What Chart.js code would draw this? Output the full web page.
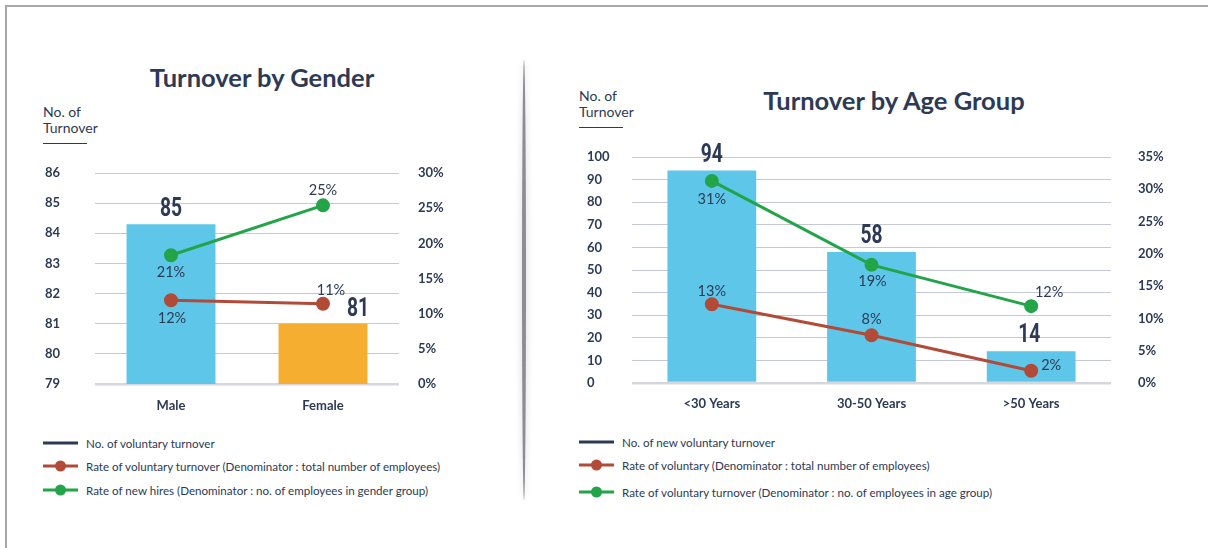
<!DOCTYPE html>
<html>
<head>
<meta charset="utf-8">
<script src="https://cdn.jsdelivr.net/npm/chart.js@4.4.1/dist/chart.umd.min.js"></script>
<style>
  body { margin: 0; width: 1208px; height: 548px; background: #fff; position: relative; overflow: hidden;
         font-family: Lato, "Open Sans", sans-serif; color: #2d3a55; }
  .frame { position: absolute; left: 5px; top: 5px; right: -5px; bottom: -5px;
           border-top: 2px solid #a8a8a8; border-left: 2px solid #a8a8a8; }
  .divider { position: absolute; left: 522px; top: 60px; width: 4px; height: 440px; background: #8c8e93;
             border-radius: 50%; box-shadow: 0 0 6px 2px rgba(0,0,0,0.10); }
  .title { position: absolute; font-weight: bold; font-size: 25.5px; transform: translate(-50%, -50%); white-space: nowrap; }
  .unit { position: absolute; font-size: 14px; line-height: 16px; }
  .unit::after { content: ""; display: block; width: 44px; border-top: 1.5px solid #2d3a55; margin-top: 7px; }
  canvas { position: absolute; }
  .legend { position: absolute; font-size: 11.6px; }
  .legend .item { position: absolute; left: 0; white-space: nowrap; display: flex; align-items: center; transform: translateY(-50%); }
  .legend .mark { position: relative; width: 35px; height: 3px; margin-right: 8px; }
  .legend .dot { position: absolute; left: 12px; top: -4px; width: 11px; height: 11px; border-radius: 50%; }
</style>
</head>
<body>
<div class="frame"></div>
<div class="divider"></div>

<div class="title" style="left:262px; top:77px;">Turnover by Gender</div>
<div class="unit" style="left:43px; top:104px;">No. of<br>Turnover</div>
<canvas id="genderChart" width="520" height="274" style="left:0; top:150px;"></canvas>
<div class="legend" id="genderLegend" style="left:43px; top:443px;"></div>

<div class="title" style="left:894px; top:100px;">Turnover by Age Group</div>
<div class="unit" style="left:579px; top:88px;">No. of<br>Turnover</div>
<canvas id="ageChart" width="678" height="293" style="left:530px; top:130px;"></canvas>
<div class="legend" id="ageLegend" style="left:579px; top:442px;"></div>

<script>
// ---- data: gender ----
const genderCategories = ["Male", "Female"];
const genderTurnover = [84.3, 81.0];
const genderTurnoverText = ["85", "81"];
const genderRateTotal = [11.9, 11.4];
const genderRateTotalText = ["12%", "11%"];
const genderRateGroup = [18.3, 25.4];
const genderRateGroupText = ["21%", "25%"];
const genderSeriesNames = [
  "No. of voluntary turnover",
  "Rate of voluntary turnover (Denominator : total number of employees)",
  "Rate of new hires (Denominator : no. of employees in gender group)"
];

// ---- data: age group ----
const ageCategories = ["<30 Years", "30-50 Years", ">50 Years"];
const ageTurnover = [94, 58, 14];
const ageTurnoverText = ["94", "58", "14"];
const ageRateTotal = [12.2, 7.4, 1.9];
const ageRateTotalText = ["13%", "8%", "2%"];
const ageRateGroup = [31.3, 18.3, 11.9];
const ageRateGroupText = ["31%", "19%", "12%"];
const ageSeriesNames = [
  "No. of new voluntary turnover",
  "Rate of voluntary (Denominator : total number of employees)",
  "Rate of voluntary turnover (Denominator : no. of employees in age group)"
];

const navy = "#2d3a55";
const blue = "#5ec6e9";
const orange = "#f5ae2f";
const red = "#b14b37";
const green = "#23a449";
const gridColor = "#c5c9d7";
const baseColor = "#d4d7dd";

const numFont = "bold 26px Roboto, sans-serif";
const pctFont = "14.5px Lato, 'Open Sans', sans-serif";

// draws the text next to each bar / point
const valueLabels = {
  id: "valueLabels",
  afterDatasetsDraw(chart) {
    const ctx = chart.ctx;
    chart.data.datasets.forEach((ds, i) => {
      const meta = chart.getDatasetMeta(i);
      meta.data.forEach((el, j) => {
        const off = ds.labelOffsets[j];
        ctx.save();
        ctx.font = ds.labelFont;
        ctx.fillStyle = navy;
        ctx.textAlign = "center";
        ctx.textBaseline = "middle";
        ctx.translate(el.x + off[0], el.y + off[1]);
        ctx.scale(ds.labelSquash || 1, 1); // condensed look for the big numbers
        ctx.fillText(ds.labelText[j], 0, 0);
        ctx.restore();
      });
    });
  }
};

const lineSet = (data, color, text, offsets, order) => ({
  type: "line",
  data: data,
  yAxisID: "y1",
  borderColor: color,
  backgroundColor: color,
  pointBackgroundColor: color,
  pointBorderColor: color,
  pointRadius: 5.5,
  borderWidth: 3,
  order: order,
  labelText: text,
  labelOffsets: offsets,
  labelFont: pctFont
});

const makeChart = (id, cfg) => {
  const gridOpt = (min) => ({
    drawTicks: false,
    color: (c) => (c.tick && c.tick.value === min ? baseColor : gridColor),
    lineWidth: (c) => (c.tick && c.tick.value === min ? 2.5 : 1)
  });
  // fixed axis width, and no extra room above/below for the labels
  const fitY = (w) => (s) => { s.width = w; s.paddingTop = 0; s.paddingBottom = 0; };
  return new Chart(document.getElementById(id), {
    data: {
      labels: cfg.labels,
      datasets: cfg.datasets
    },
    options: {
      responsive: false,
      animation: false,
      layout: { padding: cfg.padding },
      plugins: { legend: { display: false }, tooltip: { enabled: false } },
      scales: {
        x: {
          grid: { display: false },
          border: { display: false },
          ticks: { color: navy, font: { family: "Lato", size: 13, weight: "bold" }, padding: cfg.xPad },
          afterFit: (s) => { s.height = 40; }
        },
        y: {
          position: "left",
          min: cfg.yMin, max: cfg.yMax,
          grid: gridOpt(cfg.yMin),
          border: { display: false },
          ticks: { stepSize: cfg.yStep, crossAlign: "far", color: navy, font: { family: "Lato", size: 13, weight: "bold" } },
          afterFit: fitY(cfg.yWidth)
        },
        y1: {
          position: "right",
          min: 0, max: cfg.y1Max,
          grid: { display: false, drawTicks: false },
          border: { display: false },
          ticks: { stepSize: 5, padding: cfg.y1Pad, color: navy, font: { family: "Lato", size: 13, weight: "bold" },
                   callback: (v) => v + "%" },
          afterFit: fitY(60)
        }
      }
    },
    plugins: [valueLabels]
  });
};

makeChart("genderChart", {
  labels: genderCategories,
  padding: { left: 45, top: 23, right: 61, bottom: 0 },
  yMin: 79, yMax: 86, yStep: 1, yWidth: 50,
  y1Max: 30, y1Pad: 19, xPad: 6,
  datasets: [
    lineSet(genderRateGroup, green, genderRateGroupText, [[0, 17], [0, -15]], 1),
    lineSet(genderRateTotal, red, genderRateTotalText, [[1, 18], [8, -13]], 2),
    {
      type: "bar",
      data: genderTurnover,
      yAxisID: "y",
      backgroundColor: [blue, orange],
      barPercentage: 0.585,
      categoryPercentage: 1,
      order: 3,
      labelText: genderTurnoverText,
      labelOffsets: [[0, -15], [35, -14]],
      labelFont: numFont,
      labelSquash: 0.74
    }
  ]
});

makeChart("ageChart", {
  labels: ageCategories,
  padding: { left: 57, top: 27, right: 37, bottom: 0 },
  yMin: 0, yMax: 100, yStep: 10, yWidth: 45,
  y1Max: 35, y1Pad: 27, xPad: 5,
  datasets: [
    lineSet(ageRateGroup, green, ageRateGroupText, [[0, 18], [1, 16], [18, -14]], 1),
    lineSet(ageRateTotal, red, ageRateTotalText, [[0, -13], [0, -16], [20, -5]], 2),
    {
      type: "bar",
      data: ageTurnover,
      yAxisID: "y",
      backgroundColor: blue,
      barPercentage: 0.556,
      categoryPercentage: 1,
      order: 3,
      labelText: ageTurnoverText,
      labelOffsets: [[0, -15], [0, -15], [-2, -16]],
      labelFont: numFont,
      labelSquash: 0.74
    }
  ]
});

// legends below each chart
const buildLegend = (id, names, rowTops) => {
  const box = document.getElementById(id);
  const colors = [navy, red, green];
  names.forEach((name, i) => {
    const item = document.createElement("div");
    item.className = "item";
    item.style.top = rowTops[i] + "px";
    const mark = document.createElement("div");
    mark.className = "mark";
    mark.style.background = colors[i];
    if (i > 0) {
      const dot = document.createElement("div");
      dot.className = "dot";
      dot.style.background = colors[i];
      mark.appendChild(dot);
    }
    item.appendChild(mark);
    item.appendChild(document.createTextNode(name));
    box.appendChild(item);
  });
};
buildLegend("genderLegend", genderSeriesNames, [0, 23, 47]);
buildLegend("ageLegend", ageSeriesNames, [0, 23, 50]);
</script>
</body>
</html>
